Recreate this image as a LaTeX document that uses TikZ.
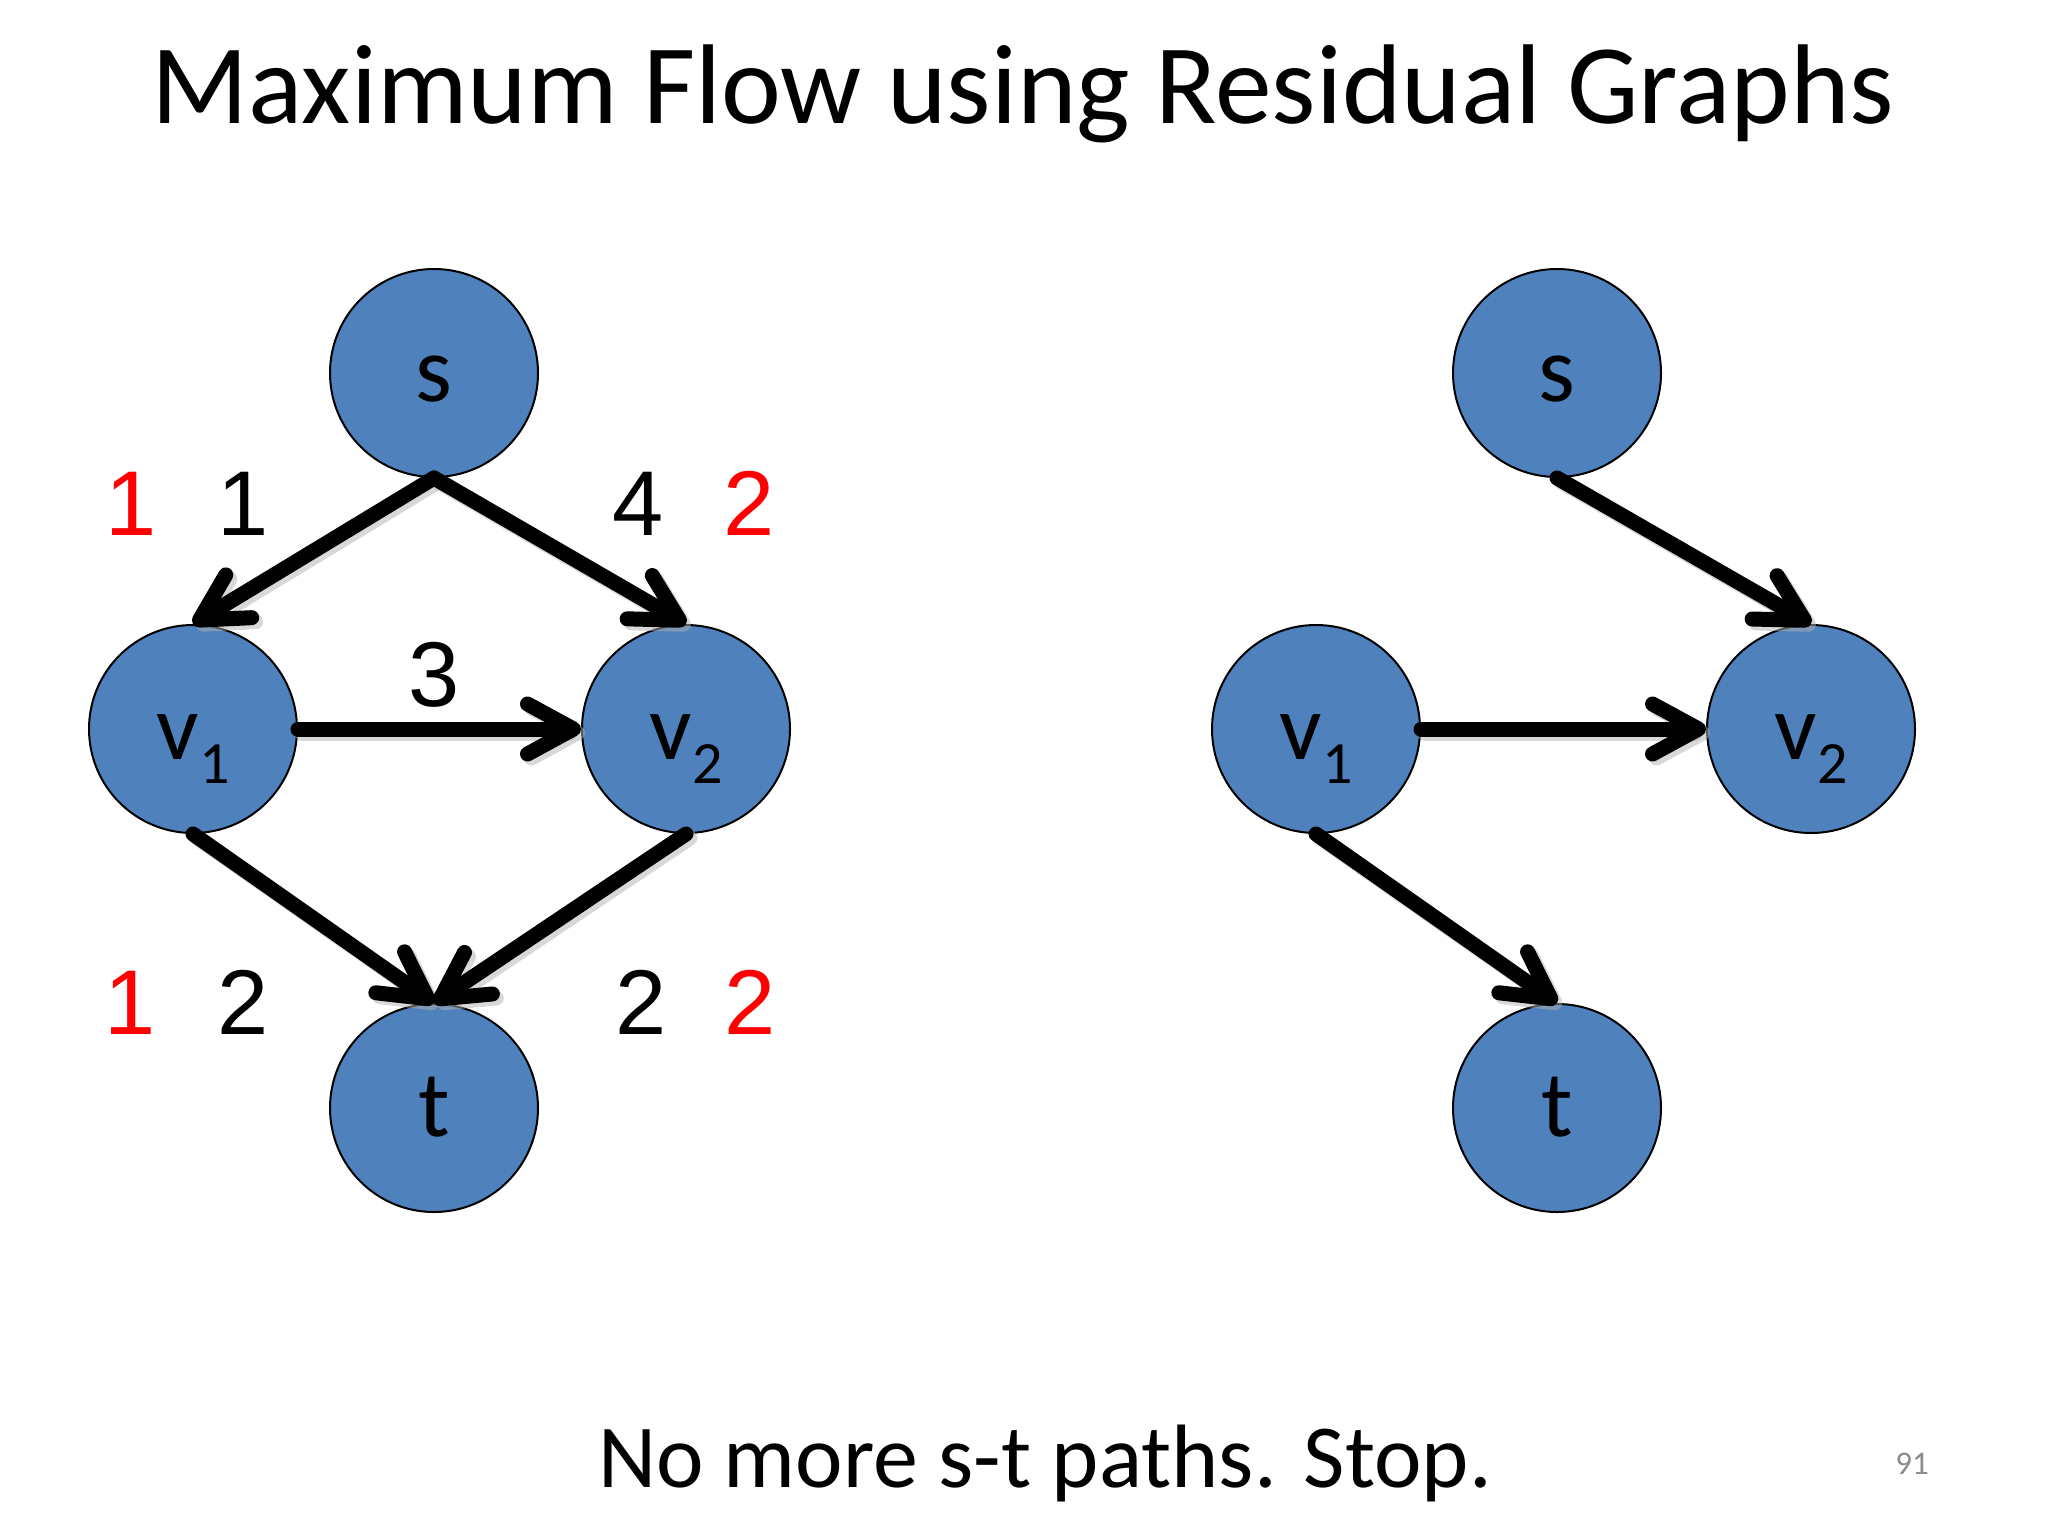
\documentclass[tikz,border=0pt]{standalone}
\usepackage{fontspec}
\setmainfont{Carlito}
\newfontfamily\arialf{Liberation Sans}
\usetikzlibrary{arrows.meta}
\definecolor{nodeblue}{HTML}{4F81BD}
\definecolor{lblred}{HTML}{FF0000}
\definecolor{pagegray}{HTML}{8C8C8C}
\tikzset{
  vertex/.style={circle, draw=black, line width=1pt, fill=nodeblue, minimum size=104pt, inner sep=0pt},
  vtext/.style={anchor=base, inner sep=0pt, font=\fontsize{47}{47}\selectfont},
  edge/.style={line width=7.5pt, line cap=round, line join=round,
    -{Straight Barb[length=23pt, width=25pt, line cap=round, line join=round]}},
  eshadow/.style={edge, draw=black!30, opacity=0.5, transform canvas={shift={(2pt,-2pt)}}},
  elabel/.style={anchor=base, inner sep=0pt, font=\arialf\fontsize{46}{46}\selectfont},
  elabelred/.style={elabel, text=lblred}
}
\newcommand{\vsub}[2]{#1\raisebox{-12pt}{\fontsize{30}{30}\selectfont #2}}
\begin{document}
\begin{tikzpicture}[x=0.5pt, y=-0.5pt]
\useasboundingbox (0,0) rectangle (2048,1536);
\fill[white] (0,0) rectangle (2048,1536);

% title
\node[anchor=base, inner sep=0pt, font=\fontsize{56.7}{57}\selectfont] (title) at (1023,124) {Maximum Flow using Residual Graphs};

% left graph
\node[vertex] (sL) at (434,373) {};
\node[vertex] (v1L) at (193,729) {};
\node[vertex] (v2L) at (686,729) {};
\node[vertex] (tL) at (434,1108) {};
% right graph
\node[vertex] (sR) at (1557,373) {};
\node[vertex] (v1R) at (1316,729) {};
\node[vertex] (v2R) at (1811,729) {};
\node[vertex] (tR) at (1557,1108) {};

% node labels
\node[vtext] (sLt) at (434,401) {s};
\node[vtext] (tLt) at (434,1136) {t};
\node[vtext] (v1Lt) at (193,759) {\vsub{v}{1}};
\node[vtext] (v2Lt) at (686,759) {\vsub{v}{2}};
\node[vtext] (sRt) at (1557,401) {s};
\node[vtext] (tRt) at (1557,1136) {t};
\node[vtext] (v1Rt) at (1316,759) {\vsub{v}{1}};
\node[vtext] (v2Rt) at (1811,759) {\vsub{v}{2}};

% shadows
\draw[eshadow] (sL.south) -- (v1L.north);
\draw[eshadow] (sL.south) -- (v2L.north);
\draw[eshadow] (v1L.east) -- (v2L.west);
\draw[eshadow] (v1L.south) -- (tL.north);
\draw[eshadow] (v2L.south) -- (tL.north);
\draw[eshadow] (sR.south) -- (v2R.north);
\draw[eshadow] (v1R.east) -- (v2R.west);
\draw[eshadow] (v1R.south) -- (tR.north);

% edges
\draw[edge] (sL.south) -- (v1L.north);
\draw[edge] (sL.south) -- (v2L.north);
\draw[edge] (v1L.east) -- (v2L.west);
\draw[edge] (v1L.south) -- (tL.north);
\draw[edge] (v2L.south) -- (tL.north);
\draw[edge] (sR.south) -- (v2R.north);
\draw[edge] (v1R.east) -- (v2R.west);
\draw[edge] (v1R.south) -- (tR.north);

% edge labels
\node[elabelred] (a1) at (131,535) {1};
\node[elabel] (a2) at (243,535) {1};
\node[elabel] (a3) at (638,535) {4};
\node[elabelred] (a4) at (749,535) {2};
\node[elabel] (a5) at (434,706) {3};
\node[elabelred] (a6) at (130,1034) {1};
\node[elabel] (a7) at (243,1034) {2};
\node[elabel] (a8) at (641,1034) {2};
\node[elabelred] (a9) at (750,1034) {2};

% bottom text
\node[anchor=base, inner sep=0pt, font=\fontsize{45}{45}\selectfont] (msg) at (1045,1487) {No more s-t paths. Stop.};
\node[anchor=base, inner sep=0pt, text=pagegray, font=\fontsize{16.5}{16.5}\selectfont] (pg) at (1912,1474) {91};
\end{tikzpicture}
\end{document}
